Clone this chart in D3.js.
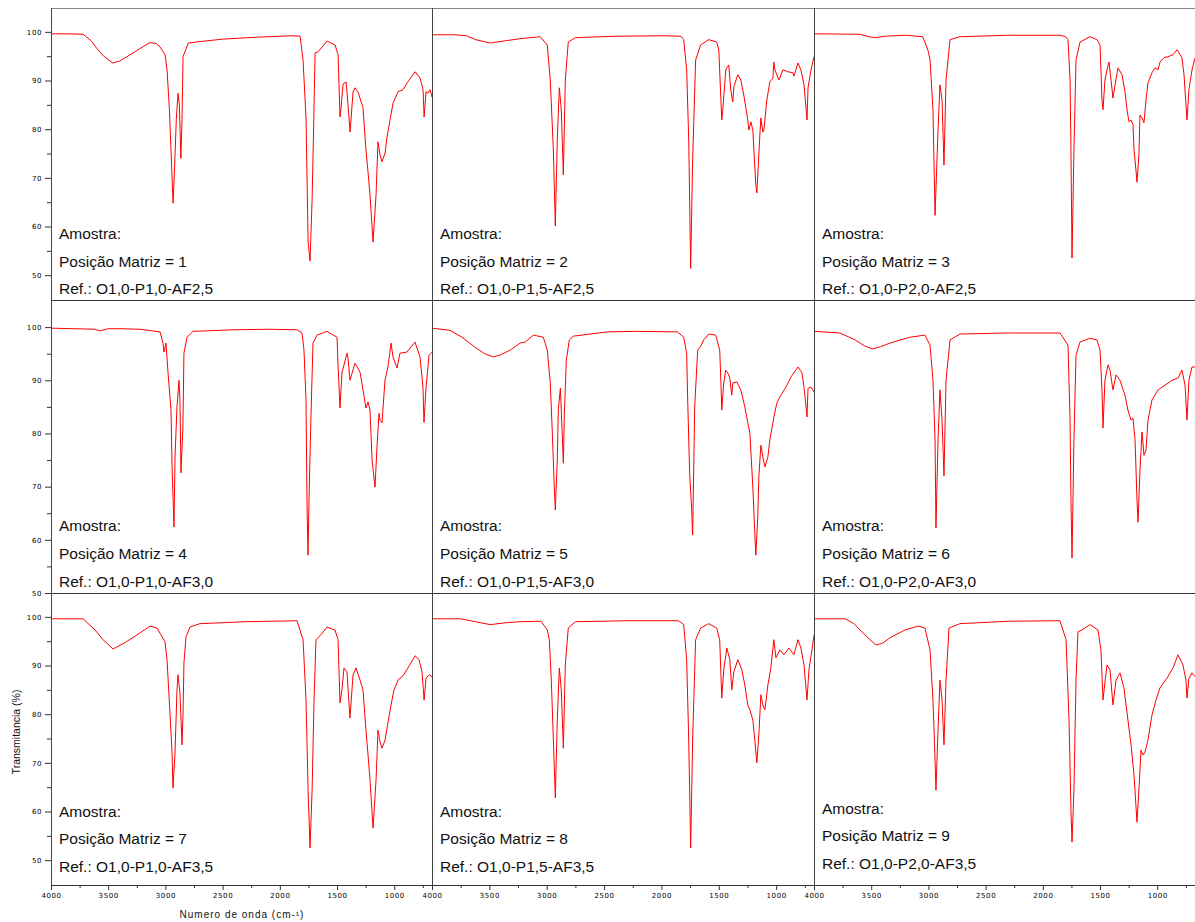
<!DOCTYPE html>
<html>
<head>
<meta charset="utf-8">
<script src="https://cdn.jsdelivr.net/npm/d3@7"></script>
<style>
  body { margin: 0; background: #fff; }
  .tick text { font-family: "DejaVu Sans", sans-serif; font-size: 7px; letter-spacing: 0.6px; fill: #000; }
  .tick line { stroke: #333; }
  .label { font-family: "Liberation Sans", Arial, sans-serif; font-size: 15.5px; fill: #111; }
  .title { font-family: "Liberation Sans", Arial, sans-serif; font-size: 10px; fill: #111; }
</style>
</head>
<body>
<svg id="chart" width="1195" height="922"></svg>
<script>
// spectra: [wavenumber (cm-1), transmittance (%)]
const spec1 = [[4000,99.6],[3850,99.6],[3720,99.5],[3650,98.2],[3600,96.6],[3540,95],[3460,93.6],[3400,94],[3300,95.4],[3220,96.6],[3135,97.8],[3080,97.6],[3047,96.9],[3003,95.3],[2985,92],[2965,84],[2945,72],[2933,64.8],[2920,72],[2905,82],[2890,87.4],[2878,85],[2865,74],[2855,82],[2846,94.9],[2800,97.7],[2700,98],[2500,98.5],[2200,98.9],[1900,99.2],[1823,99.1],[1797,94.2],[1771,82.3],[1753,57],[1736,52.9],[1718,65.4],[1705,80],[1692,95.7],[1666,95.9],[1587,98.1],[1517,97.3],[1491,95.3],[1474,82.5],[1465,84.4],[1447,89.3],[1421,89.7],[1413,87.7],[1386,79.4],[1360,87.7],[1343,88.5],[1317,87.7],[1273,84.4],[1247,75.7],[1229,71.2],[1212,66.5],[1185,56.8],[1159,66.5],[1142,77.4],[1124,74.7],[1107,73.3],[1080,75.1],[1063,78.4],[1037,81.9],[1010,85.4],[967,87.7],[923,88.1],[888,89.5],[818,91.8],[774,90.5],[748,88.1],[739,82.5],[722,87.7],[705,87.4],[687,88.1],[670,86.6]];
const spec2 = [[4000,99.4],[3800,99.4],[3700,99.2],[3620,98.4],[3493,97.7],[3350,98.2],[3231,98.6],[3056,99],[2995,97.3],[2969,90.1],[2942,75.7],[2925,60.1],[2908,77.8],[2890,88.5],[2873,84],[2855,70.6],[2838,90.1],[2812,97.9],[2751,98.8],[2400,99.1],[2000,99.2],[1830,99.1],[1806,98.4],[1780,92.2],[1762,77.8],[1745,51.4],[1728,73.7],[1702,94.2],[1658,97.3],[1588,98.4],[1518,97.9],[1500,96.3],[1474,81.9],[1465,84],[1439,92.2],[1413,93.2],[1396,88.1],[1378,85.6],[1369,88.7],[1334,91.2],[1308,90.1],[1282,87],[1247,81.9],[1238,79.8],[1220,81.5],[1203,79.8],[1194,75.7],[1177,68.5],[1168,66.9],[1160,70.6],[1142,78.8],[1133,82.3],[1116,79.4],[1107,79.8],[1081,86],[1055,89.7],[1028,90.5],[1020,93.8],[1011,92.2],[976,90.1],[941,92.2],[898,91.8],[854,91.6],[845,90.9],[810,93.6],[784,92.2],[757,89.1],[731,81.9],[722,88.5],[696,92.2],[670,94.9]];
const spec3 = [[4000,99.6],[3600,99.5],[3520,99],[3467,98.8],[3380,99.1],[3200,99.3],[3050,99],[3021,97.3],[3000,95.9],[2986,94.2],[2960,84],[2942,62.3],[2916,79.8],[2899,89.1],[2881,86],[2864,72.6],[2846,90.1],[2811,98.4],[2724,99],[2300,99.3],[1850,99.3],[1800,99],[1780,98.4],[1762,90.1],[1754,75.7],[1745,53.5],[1728,75.7],[1710,94.2],[1675,97.9],[1588,99],[1527,98.4],[1500,97.3],[1483,86],[1474,84],[1457,90.1],[1439,92.2],[1422,93.8],[1404,90.1],[1387,86.4],[1369,89.1],[1343,92.6],[1308,91.2],[1282,87.7],[1264,84],[1247,81.5],[1229,81.9],[1212,80.9],[1203,75.7],[1186,71.6],[1177,69.1],[1160,74.7],[1151,82.9],[1133,82.3],[1116,81.3],[1098,86],[1081,89.5],[1046,91.6],[1020,92.6],[993,92.2],[976,93.8],[941,94.7],[906,94.9],[862,95.3],[827,96.3],[784,94.7],[766,91.2],[749,85],[740,81.9],[723,88.1],[696,92.2],[670,94.6]];
const spec4 = [[4000,99.8],[3800,99.7],[3620,99.6],[3570,99.3],[3500,99.7],[3400,99.7],[3222,99.6],[3047,99.1],[3021,97],[3012,95.3],[2995,97],[2977,91.4],[2951,84.4],[2942,73.7],[2925,62.4],[2916,75.6],[2899,85],[2881,90],[2873,86.3],[2864,72.6],[2847,81.2],[2838,95.1],[2811,98.1],[2759,99.2],[2400,99.5],[2100,99.6],[1850,99.5],[1806,98.9],[1789,95.7],[1771,86.3],[1762,66.2],[1754,57.1],[1745,67.5],[1728,83.1],[1710,97],[1675,98.5],[1588,99.2],[1500,98.1],[1492,93.2],[1474,84.8],[1457,91.4],[1413,95.1],[1404,94.2],[1387,90],[1343,93.2],[1299,91.5],[1273,88.2],[1247,84.8],[1229,85.9],[1212,84.4],[1194,75],[1168,69.9],[1151,77.4],[1133,83.8],[1124,82.5],[1107,82],[1081,90],[1055,92.5],[1028,97],[1011,94.4],[976,92.3],[950,95.1],[889,95.3],[819,97.2],[775,94.4],[749,88.7],[740,82.1],[722,88.7],[696,94.7],[670,95.3]];
const spec5 = [[4000,99.8],[3843,99.4],[3738,98.1],[3624,96.2],[3540,95],[3467,94.4],[3400,94.8],[3318,95.7],[3231,97],[3187,97.2],[3117,98.5],[3030,98.1],[2995,95.7],[2969,89.5],[2951,80.1],[2934,69.9],[2925,65.6],[2908,75],[2899,84.4],[2881,88.5],[2873,84.4],[2855,74.4],[2846,83.8],[2829,93.8],[2803,97.6],[2768,98.3],[2471,99.1],[2208,99.2],[1859,99.1],[1806,98.1],[1780,95.1],[1771,86.3],[1754,72.6],[1736,65.6],[1728,60.9],[1719,72.6],[1710,85],[1684,95.7],[1658,96.4],[1631,97.6],[1588,98.7],[1527,98.5],[1492,95.7],[1483,90.6],[1474,84.4],[1457,89.5],[1439,91.9],[1422,91.4],[1404,90.4],[1387,87.2],[1378,89.5],[1343,89.7],[1308,88.2],[1273,85],[1247,82],[1229,80.1],[1203,69.9],[1186,61.3],[1177,57.1],[1160,64.3],[1151,71.8],[1133,77.8],[1116,75.6],[1098,73.7],[1072,75.6],[1055,78.8],[1020,83.1],[994,85.7],[959,87.2],[915,88.7],[871,90.6],[810,92.5],[775,91.4],[757,88.7],[731,83.1],[722,88.5],[696,88.7],[670,87.8]];
const spec6 = [[4000,99.2],[3773,98.9],[3642,97.6],[3560,96.5],[3493,95.9],[3420,96.3],[3336,97],[3161,98.1],[3030,98.5],[2986,96.6],[2960,90],[2942,78.8],[2934,62.2],[2916,78.8],[2899,88.2],[2881,82.5],[2864,72],[2846,90],[2811,97.6],[2724,98.7],[2300,98.9],[1850,98.9],[1780,96.6],[1762,82.5],[1754,67.5],[1745,56.6],[1728,78.8],[1710,94.7],[1675,97.2],[1588,97.9],[1527,97.6],[1500,95.7],[1483,88.2],[1474,81],[1457,90],[1430,92.9],[1413,91.9],[1387,88.2],[1360,91],[1326,90],[1282,87.2],[1256,84.4],[1229,82.5],[1212,82.9],[1194,78.8],[1177,67.5],[1168,63.3],[1151,73.1],[1133,80.3],[1116,75.9],[1098,76.9],[1081,82.5],[1046,86.3],[993,88.2],[932,89.1],[871,90],[819,90.4],[784,91.9],[757,89.1],[740,82.5],[723,90],[696,92.5],[670,92.5]];
const spec7 = [[4000,99.6],[3850,99.6],[3720,99.6],[3615,97.3],[3545,95.3],[3458,93.4],[3353,94.7],[3222,96.7],[3135,98.1],[3073,97.7],[3039,96.3],[3004,94.9],[2986,91.2],[2960,80.2],[2942,72],[2934,64.8],[2916,72],[2899,85],[2890,88.1],[2873,84.4],[2855,73.7],[2846,80.2],[2838,90.5],[2820,95.9],[2785,97.9],[2698,98.6],[2300,99],[1850,99.2],[1797,95.3],[1771,82.9],[1753,64.4],[1736,52.5],[1718,64.4],[1701,82.9],[1684,95.3],[1649,96.1],[1588,97.9],[1518,97.3],[1491,95.3],[1474,82.3],[1457,85],[1439,89.5],[1413,88.7],[1387,79.2],[1360,88.1],[1334,89.5],[1299,87],[1273,85],[1247,76.7],[1229,71.6],[1212,66.5],[1185,56.6],[1159,66.5],[1142,76.7],[1124,74.3],[1107,73],[1080,74.7],[1054,78.4],[1028,81.9],[1002,85],[967,87],[923,87.9],[880,89.5],[818,92],[783,91.2],[757,88.7],[739,82.9],[722,87.4],[696,88.1],[670,87.7]];
const spec8 = [[4000,99.6],[3750,99.6],[3620,99],[3493,98.4],[3350,98.8],[3231,99],[3050,99.1],[2995,97.3],[2977,95.3],[2960,87],[2942,74.7],[2925,62.8],[2908,78.8],[2890,89.5],[2873,85],[2855,73],[2838,90.1],[2812,97.7],[2751,99],[2300,99.2],[1850,99.2],[1806,98.4],[1780,91.2],[1762,74.7],[1745,52.5],[1728,74.7],[1702,95.3],[1658,97.7],[1588,98.6],[1518,97.7],[1492,95.3],[1474,83.3],[1457,89.1],[1430,93.6],[1404,91.2],[1387,85],[1369,88.7],[1334,91.2],[1299,89.1],[1273,86],[1247,81.9],[1229,80.9],[1203,78.8],[1186,74.7],[1168,70],[1151,75.7],[1133,84],[1116,81.9],[1098,80.9],[1072,86],[1046,89.5],[1020,95.3],[1002,91.6],[967,93.2],[932,92.2],[889,93.6],[845,92.2],[810,95.3],[784,93.6],[757,90.1],[731,82.9],[714,89.1],[688,93.2],[670,96.3]];
const spec9 = [[4000,99.6],[3729,99.6],[3650,98.6],[3598,97.3],[3511,95.3],[3458,94.2],[3400,94.6],[3336,95.7],[3205,97.3],[3091,98.1],[3030,97.7],[2986,93.2],[2960,82.9],[2942,70.6],[2934,64.4],[2916,76.7],[2899,87],[2881,82.9],[2864,73.7],[2846,87],[2820,97.7],[2724,98.6],[2300,99.1],[1850,99.2],[1797,95.3],[1771,78.8],[1754,60.3],[1745,53.7],[1728,64.4],[1710,87],[1693,96.9],[1658,97.3],[1588,98.4],[1518,97.3],[1492,93.2],[1474,82.9],[1457,86.6],[1439,90.1],[1413,89.1],[1387,81.9],[1360,87],[1326,88.5],[1291,85.4],[1256,78.8],[1229,73.7],[1203,67.5],[1177,57.8],[1160,64.4],[1142,72.6],[1125,71.6],[1107,72.2],[1081,74.7],[1046,79.8],[1011,82.9],[976,85.4],[915,87.4],[862,89.5],[819,92.2],[775,90.1],[749,87],[740,83.3],[723,87.4],[696,88.5],[670,87.7]];

const spectra = [spec1, spec2, spec3, spec4, spec5, spec6, spec7, spec8, spec9];
const positions = [1, 2, 3, 4, 5, 6, 7, 8, 9];
const refs = ["O1,0-P1,0-AF2,5", "O1,0-P1,5-AF2,5", "O1,0-P2,0-AF2,5",
              "O1,0-P1,0-AF3,0", "O1,0-P1,5-AF3,0", "O1,0-P2,0-AF3,0",
              "O1,0-P1,0-AF3,5", "O1,0-P1,5-AF3,5", "O1,0-P2,0-AF3,5"];

const xTicks = [4000, 3500, 3000, 2500, 2000, 1500, 1000];
const xMinor = [3750, 3250, 2750, 2250, 1750, 1250, 750];
const yTicks = [50, 60, 70, 80, 90, 100];
const yMinor = [55, 65, 75, 85, 95];

// layout
const colX = [51, 432, 814, 1195];
const rowY = [8, 300, 593, 885];
const xDomain = [4000, 670];
const yDomains = [[44.9, 104.9], [50, 105.1], [44.9, 104.9]];
const textBase = [[239, 267, 294], [531, 559, 587], [817, 844, 872]];

const svg = d3.select("#chart");

spectra.forEach((data, i) => {
    const col = i % 3, row = Math.floor(i / 3);
    const x = d3.scaleLinear().domain(xDomain).range([colX[col], colX[col + 1]]);
    const y = d3.scaleLinear().domain(yDomains[row]).range([rowY[row + 1], rowY[row]]);

    svg.append("clipPath").attr("id", "clip" + i)
        .append("rect")
        .attr("x", colX[col]).attr("y", rowY[row])
        .attr("width", colX[col + 1] - colX[col]).attr("height", rowY[row + 1] - rowY[row]);

    const line = d3.line().x(d => x(d[0])).y(d => y(d[1]));

    svg.append("path")
        .datum(data)
        .attr("clip-path", `url(#clip${i})`)
        .attr("fill", "none")
        .attr("stroke", "#ff0000")
        .attr("stroke-width", 1)
        .attr("d", line);

    // sample text
    let base = textBase[row];
    if (i === 8) base = base.map(b => b - 3);
    const tx = colX[col] + 8;
    const lines = ["Amostra:", "Posição Matriz = " + positions[i], "Ref.: " + refs[i]];
    lines.forEach((t, k) => {
        svg.append("text").attr("class", "label")
            .attr("x", tx).attr("y", base[k]).text(t);
    });

    if (col === 0) {
        svg.append("g")
            .attr("transform", `translate(${colX[0]},0)`)
            .call(d3.axisLeft(y).tickValues(yTicks).tickSize(6).tickPadding(3))
            .call(g => g.select(".domain").remove());
        svg.append("g")
            .attr("transform", `translate(${colX[0]},0)`)
            .call(d3.axisLeft(y).tickValues(yMinor).tickSize(4).tickFormat(""))
            .call(g => g.select(".domain").remove());
    }
    if (row === 2) {
        svg.append("g")
            .attr("transform", `translate(0,${rowY[3]})`)
            .call(d3.axisBottom(x).tickValues(xTicks).tickSize(5).tickPadding(3).tickFormat(d3.format("d")))
            .call(g => g.select(".domain").remove());
        svg.append("g")
            .attr("transform", `translate(0,${rowY[3]})`)
            .call(d3.axisBottom(x).tickValues(xMinor).tickSize(3).tickFormat(""))
            .call(g => g.select(".domain").remove());
    }
});

// frame lines
const frame = svg.append("g").attr("stroke-width", 1).attr("shape-rendering", "crispEdges");
rowY.forEach((yy, k) => {
    frame.append("line")
        .attr("x1", colX[0]).attr("x2", colX[3])
        .attr("y1", yy + 0.5).attr("y2", yy + 0.5)
        .attr("stroke", k === 0 ? "#888" : "#333");
});
colX.slice(0, 3).forEach(xx => {
    frame.append("line")
        .attr("x1", xx + 0.5).attr("x2", xx + 0.5)
        .attr("y1", rowY[0]).attr("y2", rowY[3])
        .attr("stroke", "#444");
});

// axis titles
svg.append("text").attr("class", "title")
    .attr("transform", "translate(20,732) rotate(-90)")
    .attr("text-anchor", "middle")
    .style("font-size", "10.5px")
    .text("Transmitancia (%)");

svg.append("text").attr("class", "title")
    .attr("x", 242).attr("y", 918)
    .attr("text-anchor", "middle")
    .style("letter-spacing", "1px")
    .text("Numero de onda (cm-¹)");
</script>
</body>
</html>
